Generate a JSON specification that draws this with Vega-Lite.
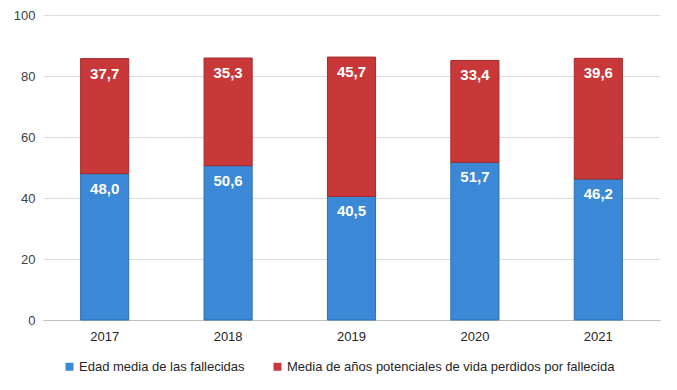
{
  "$schema": "https://vega.github.io/schema/vega-lite/v6.json",
  "width": 617,
  "height": 305,
  "autosize": {"type": "none"},
  "padding": {"left": 43, "top": 15, "right": 17, "bottom": 70},
  "background": "white",
  "config": {
    "locale": {"number": {"decimal": ",", "thousands": ".", "grouping": [3], "currency": ["", " €"]}},
    "view": {"stroke": null},
    "font": "Liberation Sans",
    "axis": {"labelFont": "Liberation Sans", "labelFontSize": 13, "labelColor": "#404040", "ticks": false, "title": null},
    "legend": {"labelFont": "Liberation Sans", "labelFontSize": 13, "labelColor": "#262626", "labelLimit": 0}
  },
  "data": {
    "values": [
      {"anio": "2017", "serie": "Edad media de las fallecidas", "orden": 1, "valor": 48.0},
      {"anio": "2018", "serie": "Edad media de las fallecidas", "orden": 1, "valor": 50.6},
      {"anio": "2019", "serie": "Edad media de las fallecidas", "orden": 1, "valor": 40.5},
      {"anio": "2020", "serie": "Edad media de las fallecidas", "orden": 1, "valor": 51.7},
      {"anio": "2021", "serie": "Edad media de las fallecidas", "orden": 1, "valor": 46.2},
      {"anio": "2017", "serie": "Media de años potenciales de vida perdidos por fallecida", "orden": 2, "valor": 37.7},
      {"anio": "2018", "serie": "Media de años potenciales de vida perdidos por fallecida", "orden": 2, "valor": 35.3},
      {"anio": "2019", "serie": "Media de años potenciales de vida perdidos por fallecida", "orden": 2, "valor": 45.7},
      {"anio": "2020", "serie": "Media de años potenciales de vida perdidos por fallecida", "orden": 2, "valor": 33.4},
      {"anio": "2021", "serie": "Media de años potenciales de vida perdidos por fallecida", "orden": 2, "valor": 39.6}
    ]
  },
  "encoding": {
    "x": {
      "field": "anio", "type": "nominal",
      "scale": {"paddingInner": 0.61, "paddingOuter": 0.305},
      "axis": {"labelAngle": 0, "labelPadding": 10, "domainColor": "#BFBFBF", "labelColor": "#262626"}
    },
    "y": {
      "field": "valor", "type": "quantitative", "stack": "zero",
      "scale": {"domain": [0, 100]},
      "axis": {"values": [0, 20, 40, 60, 80, 100], "domain": false, "gridColor": "#D9DDE3", "labelPadding": 8}
    },
    "order": {"field": "orden", "type": "quantitative"}
  },
  "layer": [
    {
      "mark": {"type": "bar", "strokeWidth": 1},
      "encoding": {
        "color": {
          "field": "serie", "type": "nominal",
          "scale": {
            "domain": ["Edad media de las fallecidas", "Media de años potenciales de vida perdidos por fallecida"],
            "range": ["#3A88D6", "#C93838"]
          },
          "legend": {
            "title": null, "orient": "none", "direction": "horizontal",
            "legendX": 20, "legendY": 345, "symbolType": "square", "symbolSize": 64,
            "symbolStrokeWidth": 0, "labelOffset": 3, "columnPadding": 26
          }
        },
        "stroke": {
          "field": "serie", "type": "nominal",
          "scale": {
            "domain": ["Edad media de las fallecidas", "Media de años potenciales de vida perdidos por fallecida"],
            "range": ["#2E6FB0", "#A52B2B"]
          },
          "legend": null
        }
      }
    },
    {
      "mark": {"type": "text", "color": "white", "fontWeight": "bold", "fontSize": 15, "baseline": "middle", "dy": 15, "font": "Liberation Sans"},
      "encoding": {
        "text": {"field": "valor", "type": "quantitative", "format": ".1f"}
      }
    }
  ]
}
